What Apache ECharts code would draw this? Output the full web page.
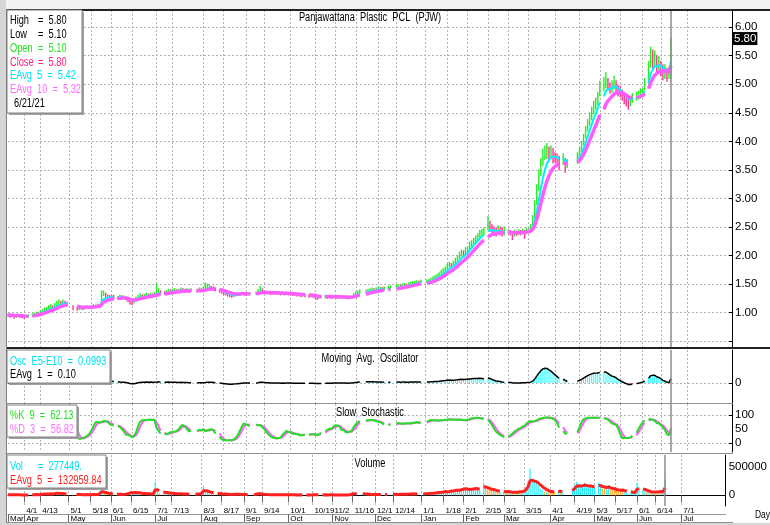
<!DOCTYPE html>
<html>
<head>
<meta charset="utf-8">
<script src="https://cdn.jsdelivr.net/npm/echarts@6/dist/echarts.min.js"></script>
<style>
  html, body { margin: 0; padding: 0; background: #fff; }
  #main { width: 770px; height: 525px; }
</style>
</head>
<body>
<div id="main"></div>
<script>
// weekday axis: 357 weekdays starting 2020-03-20 (holidays stay as empty slots)
var startDate = [2020, 2, 20];
var categoryCount = 357;

// tick labels on the date axis
var dayTicks = ['2020-04-01','2020-04-13','2020-05-01','2020-05-18','2020-06-01','2020-06-15','2020-07-01','2020-07-13',
  '2020-08-03','2020-08-17','2020-09-01','2020-09-14','2020-10-01','2020-10-19','2020-11-02','2020-11-16',
  '2020-12-01','2020-12-14','2021-01-01','2021-01-18','2021-02-01','2021-02-15','2021-03-01','2021-03-15',
  '2021-04-01','2021-04-19','2021-05-03','2021-05-17','2021-06-01','2021-06-14','2021-07-01'];
var monthStarts = ['2020-03-20','2020-04-01','2020-05-01','2020-06-01','2020-07-01','2020-08-03','2020-09-01','2020-10-01',
  '2020-11-02','2020-12-01','2021-01-01','2021-02-01','2021-03-01','2021-04-01','2021-05-03','2021-06-01','2021-07-01'];
var monthNames = ['Mar','Apr','May','Jun','Jul','Aug','Sep','Oct','Nov','Dec','Jan','Feb','Mar','Apr','May','Jun','Jul'];
var priceTicks = [0.5,1,1.5,2,2.5,3,3.5,4,4.5,5,5.5,6];
var priceLabels = [1,1.5,2,2.5,3,3.5,4,4.5,5,5.5,6];

// daily prices, one row per month (null = market closed)
var close = [
  0.96,0.94,0.95,0.93,0.94,0.95,0.94,0.93,
  0.92,0.93,0.94,null,0.96,0.97,0.99,0.98,1.01,1.03,1.05,1.06,1.08,1.10,1.09,1.12,1.15,1.17,1.16,1.18,1.17,1.15,
  null,null,1.08,null,1.06,1.07,1.08,1.07,1.09,1.10,1.09,1.10,1.12,1.11,1.13,1.12,1.30,1.34,1.30,1.28,1.27,
  1.28,1.27,null,1.26,1.27,1.28,1.27,1.25,1.22,1.18,1.17,1.20,1.24,1.27,1.30,1.29,1.30,1.31,1.30,1.32,1.31,1.33,
  1.34,1.36,1.35,null,1.34,1.36,1.38,1.37,1.38,1.39,1.37,1.38,1.40,1.39,1.38,1.39,1.38,1.39,null,null,1.38,1.40,1.39,
  1.40,1.42,1.44,1.45,1.43,1.42,1.40,null,1.38,1.36,1.34,1.33,1.31,1.30,1.29,1.30,1.31,1.32,1.33,1.34,1.33,
  1.32,1.33,1.33,null,null,1.34,1.36,1.40,1.38,1.36,1.35,1.35,1.34,1.34,1.35,1.34,1.34,1.33,1.34,1.33,1.34,1.33,
  1.33,1.32,1.32,1.31,1.31,1.30,1.31,1.30,null,1.29,1.30,1.29,1.27,1.26,1.27,1.27,null,1.28,1.27,1.28,1.27,1.28,
  1.28,1.27,1.28,1.27,1.27,1.27,1.26,1.27,1.27,1.30,1.33,1.35,1.37,null,null,1.37,1.38,1.39,1.40,1.39,1.40,
  1.41,1.42,1.41,1.42,null,1.43,1.44,null,null,1.45,1.46,1.45,1.47,1.48,1.47,1.49,1.50,1.51,1.52,1.53,1.52,1.54,null,
  null,1.55,1.56,1.58,1.60,1.62,1.64,1.66,1.70,1.73,1.76,1.80,1.84,1.82,1.86,1.90,1.94,2.00,2.04,2.02,2.08,
  2.12,2.18,2.22,2.26,2.30,2.34,2.38,2.40,2.42,null,2.56,2.48,2.44,2.42,2.40,2.44,2.42,2.40,2.42,null,
  2.42,2.40,2.38,2.40,2.39,2.41,2.40,2.42,2.40,2.44,2.44,2.48,2.60,2.84,3.10,3.36,3.56,3.72,3.80,3.84,3.78,3.82,3.76,
  3.72,3.70,3.64,null,3.70,3.60,3.62,null,null,null,null,3.72,3.80,3.92,4.04,4.18,4.30,4.40,4.50,4.60,4.66,4.76,
  4.90,null,5.00,5.05,4.98,4.92,4.96,5.02,4.94,4.88,4.86,4.80,4.76,4.72,4.66,4.70,4.76,null,4.78,4.80,4.84,
  4.86,5.00,null,5.30,5.50,5.40,5.45,5.30,5.38,5.30,5.20,5.25,5.15,5.20,5.80
];
var high = [
  0.98,0.96,0.97,0.95,0.96,0.97,0.96,0.95,
  0.94,0.95,0.96,null,0.98,0.99,1.01,1.00,1.03,1.05,1.08,1.09,1.12,1.14,1.12,1.16,1.20,1.22,1.20,1.22,1.20,1.18,
  null,null,1.12,null,1.09,1.09,1.10,1.09,1.11,1.12,1.11,1.12,1.14,1.13,1.15,1.14,1.38,1.38,1.34,1.31,1.30,
  1.30,1.30,null,1.28,1.30,1.30,1.29,1.27,1.25,1.21,1.20,1.23,1.27,1.30,1.33,1.31,1.32,1.34,1.32,1.34,1.33,1.35,
  1.50,1.42,1.38,null,1.37,1.39,1.41,1.40,1.41,1.42,1.40,1.41,1.43,1.42,1.41,1.42,1.41,1.42,null,null,1.41,1.43,1.42,
  1.44,1.52,1.50,1.48,1.46,1.45,1.43,null,1.40,1.39,1.36,1.35,1.33,1.32,1.31,1.32,1.33,1.34,1.35,1.36,1.35,
  1.34,1.35,1.35,null,null,1.36,1.40,1.46,1.42,1.38,1.37,1.37,1.36,1.36,1.37,1.36,1.36,1.35,1.36,1.35,1.36,1.35,
  1.35,1.34,1.34,1.33,1.33,1.32,1.33,1.32,null,1.31,1.32,1.31,1.29,1.28,1.29,1.29,null,1.30,1.29,1.30,1.29,1.30,
  1.30,1.29,1.30,1.29,1.29,1.29,1.28,1.29,1.29,1.33,1.36,1.38,1.40,null,null,1.40,1.41,1.42,1.43,1.42,1.43,
  1.44,1.45,1.44,1.45,null,1.46,1.47,null,null,1.48,1.49,1.48,1.50,1.51,1.50,1.52,1.53,1.54,1.55,1.56,1.55,1.57,null,
  null,1.57,1.58,1.60,1.63,1.65,1.67,1.70,1.74,1.77,1.80,1.85,1.88,1.86,1.90,1.95,2.00,2.06,2.10,2.08,2.14,
  2.16,2.24,2.26,2.30,2.34,2.38,2.44,2.46,2.48,null,2.68,2.60,2.54,2.50,2.48,2.52,2.50,2.48,2.50,null,
  2.46,2.44,2.42,2.44,2.43,2.45,2.44,2.46,2.44,2.48,2.48,2.54,2.70,2.96,3.24,3.50,3.70,3.86,3.92,3.96,3.90,3.92,3.88,
  3.80,3.78,3.74,null,3.78,3.70,3.68,null,null,null,null,3.80,3.88,4.00,4.12,4.26,4.38,4.50,4.60,4.70,4.76,4.86,
  5.05,null,5.12,5.20,5.10,5.02,5.06,5.14,5.06,4.98,4.96,4.90,4.86,4.82,4.76,4.78,4.84,null,4.86,4.88,4.92,
  4.92,5.10,null,5.40,5.65,5.60,5.58,5.50,5.48,5.40,5.34,5.34,5.28,5.30,5.80
];
var low = [
  0.93,0.92,0.93,0.90,0.92,0.93,0.92,0.91,
  0.90,0.91,0.92,null,0.94,0.95,0.97,0.96,0.99,1.00,1.02,1.03,1.05,1.07,1.06,1.09,1.12,1.14,1.13,1.15,1.14,1.12,
  null,null,1.05,null,1.04,1.05,1.06,1.05,1.07,1.08,1.07,1.08,1.10,1.09,1.11,1.10,1.14,1.30,1.27,1.25,1.24,
  1.25,1.24,null,1.24,1.25,1.26,1.25,1.22,1.19,1.15,1.14,1.17,1.21,1.24,1.27,1.27,1.28,1.29,1.28,1.29,1.29,1.30,
  1.30,1.33,1.33,null,1.32,1.33,1.35,1.35,1.36,1.37,1.35,1.36,1.37,1.37,1.36,1.37,1.36,1.37,null,null,1.36,1.37,1.37,
  1.38,1.40,1.41,1.42,1.41,1.40,1.38,null,1.36,1.34,1.32,1.31,1.29,1.28,1.27,1.28,1.29,1.30,1.31,1.32,1.31,
  1.30,1.31,1.31,null,null,1.32,1.33,1.36,1.35,1.34,1.33,1.33,1.32,1.32,1.33,1.32,1.32,1.31,1.32,1.31,1.32,1.31,
  1.31,1.30,1.30,1.29,1.29,1.28,1.29,1.28,null,1.27,1.28,1.27,1.25,1.23,1.25,1.25,null,1.26,1.25,1.26,1.25,1.26,
  1.26,1.25,1.26,1.25,1.25,1.25,1.24,1.25,1.25,1.27,1.30,1.32,1.34,null,null,1.35,1.36,1.37,1.38,1.37,1.38,
  1.39,1.40,1.39,1.40,null,1.41,1.42,null,null,1.43,1.44,1.43,1.45,1.46,1.45,1.47,1.48,1.49,1.50,1.51,1.50,1.52,null,
  null,1.53,1.54,1.56,1.58,1.60,1.62,1.64,1.67,1.70,1.73,1.76,1.80,1.79,1.82,1.86,1.90,1.95,1.99,1.98,2.02,
  2.06,2.12,2.16,2.20,2.24,2.28,2.32,2.34,2.36,null,2.46,2.42,2.38,2.36,2.34,2.38,2.36,2.34,2.36,null,
  2.38,2.36,2.28,2.34,2.35,2.37,2.36,2.38,2.30,2.38,2.40,2.42,2.50,2.66,2.90,3.14,3.40,3.58,3.68,3.70,3.66,3.70,3.62,
  3.64,3.62,3.50,null,3.60,3.46,3.54,null,null,null,null,3.62,3.70,3.82,3.94,4.06,4.18,4.28,4.38,4.48,4.56,4.64,
  4.80,null,4.88,4.94,4.90,4.84,4.86,4.92,4.86,4.80,4.78,4.72,4.66,4.62,4.56,4.62,4.68,null,4.72,4.74,4.76,
  4.80,4.90,null,5.00,5.30,5.25,5.30,5.20,5.22,5.15,5.08,5.10,5.05,5.10,5.10
];
// daily volume in thousands of shares
var volumeK = [
  12,8,10,6,9,7,8,6,
  5,7,9,null,14,12,18,10,22,30,25,20,28,35,18,30,55,40,25,30,20,15,
  null,null,12,null,8,10,9,7,12,15,10,12,18,14,20,15,120,90,40,25,20,
  18,15,null,12,14,16,12,20,35,60,70,45,55,40,50,25,20,30,18,22,20,25,
  240,110,40,null,25,30,45,28,30,35,20,25,30,22,18,25,20,22,null,null,18,25,20,
  60,170,90,60,40,35,28,null,25,20,18,15,20,14,12,15,18,20,15,18,12,
  10,12,10,null,null,14,25,50,30,15,12,10,9,8,10,9,8,7,9,8,10,8,
  9,8,7,8,6,7,9,6,null,8,7,6,10,12,8,7,null,9,6,8,7,9,
  8,7,6,8,7,6,9,8,7,30,45,40,35,null,null,25,20,18,15,12,14,
  15,12,10,14,null,12,15,null,null,18,20,15,22,25,18,20,22,25,28,30,22,35,null,
  null,30,25,35,40,38,45,50,60,55,65,70,80,60,75,90,85,110,100,80,120,
  130,140,100,90,110,120,150,100,90,null,225,160,110,90,80,100,70,60,70,null,
  60,50,70,55,45,50,60,55,80,65,90,150,260,480,280,240,220,180,120,100,70,60,50,
  40,45,60,null,70,90,50,null,null,null,null,120,180,240,200,150,170,220,160,140,180,130,
  150,null,220,170,120,140,110,180,100,90,110,80,70,90,100,60,50,null,45,40,35,
  220,150,null,100,90,60,50,40,45,60,55,70,75,60,277.449
];
var lastDate = '2021-06-21';

// ---- categories
var categories = [];
(function () {
  var d = new Date(Date.UTC(startDate[0], startDate[1], startDate[2]));
  while (categories.length < categoryCount) {
    var wd = d.getUTCDay();
    if (wd !== 0 && wd !== 6) categories.push(d.toISOString().slice(0, 10));
    d.setUTCDate(d.getUTCDate() + 1);
  }
})();

// ---- indicators
function ema(src, n) {
  var k = 2 / (n + 1), prev = null;
  return src.map(function (v) {
    if (v == null) return null;
    prev = prev == null ? v : prev + k * (v - prev);
    return prev;
  });
}
var ema5 = ema(close, 5);
var ema10 = ema(close, 10);
var osc = ema5.map(function (v, i) { return v == null ? null : v - ema10[i]; });

var volume = volumeK.map(function (v) { return v == null ? null : Math.round(v * 1000); });
var volEma = ema(volume, 5);

// slow stochastic %K 9 (slowing 3), %D 3
var stochK = close.map(function () { return null; });
var stochD = close.map(function () { return null; });
(function () {
  var idx = [];
  close.forEach(function (c, i) { if (c != null) idx.push(i); });
  var num = [], den = [], ks = [];
  idx.forEach(function (i, j) {
    var from = Math.max(0, j - 8), hh = -Infinity, ll = Infinity;
    for (var t = from; t <= j; t++) { hh = Math.max(hh, high[idx[t]]); ll = Math.min(ll, low[idx[t]]); }
    num.push(close[i] - ll); den.push(hh - ll);
    var a = 0, b = 0;
    for (var s = Math.max(0, j - 2); s <= j; s++) { a += num[s]; b += den[s]; }
    ks.push(b > 0 ? 100 * a / b : 50);
    stochK[i] = ks[j];
    var m = 0, c = 0;
    for (var s2 = Math.max(0, j - 2); s2 <= j; s2++) { m += ks[s2]; c++; }
    stochD[i] = m / c;
  });
})();

// price bars colored by change from previous close
var barColors = ['#a8a8a8', '#22ee22', '#ff3399'];
var priceBars = [];
var prevClose = null;
close.forEach(function (c, i) {
  if (c == null) return;
  var col = prevClose == null || c === prevClose ? 0 : (c > prevClose ? 1 : 2);
  priceBars.push([i, low[i], high[i], col]);
  prevClose = c;
});
var volColors = [];
prevClose = null;
close.forEach(function (c, i) {
  volColors[i] = (prevClose != null && c != null && c < prevClose) ? '#ffaa22' : '#22eeff';
  if (c != null) prevClose = c;
});

// ---- chart
var F = "'Liberation Sans', Arial, sans-serif";
var NARROW = 0.77;
var daySet = {}; dayTicks.forEach(function (d) { daySet[d] = true; });
var monthSet = {}; monthStarts.forEach(function (d, i) { monthSet[d] = monthNames[i]; });
function isDay(i, v) { return !!daySet[v]; }
function isMonth(i, v) { return !!monthSet[v]; }
var dotted = { color: '#b4b4b4', type: [2, 2], width: 1 };

var gridL = 8, gridR = 38;
var grids = [
  { left: gridL, right: gridR, top: 10, height: 337 },
  { left: gridL, right: gridR, top: 350, height: 53 },
  { left: gridL, right: gridR, top: 404, height: 48 },
  { left: gridL, right: gridR, top: 455, height: 51 }
];

function plainX(g) {
  return {
    type: 'category', gridIndex: g, data: categories, boundaryGap: false,
    axisLine: { show: false }, axisTick: { show: false }, axisLabel: { show: false },
    splitLine: { show: true, interval: isDay, lineStyle: dotted }
  };
}
function rightY(g, min, max, ticks, labels, fmt) {
  return {
    type: 'value', gridIndex: g, position: 'right', min: min, max: max, scale: true,
    axisLine: { show: true, lineStyle: { color: '#000', width: 1 } },
    axisTick: { show: true, inside: true, length: 3, customValues: ticks, lineStyle: { color: '#000' } },
    axisLabel: { show: true, customValues: labels, margin: 3, color: '#000', fontSize: 11.5, fontFamily: F, formatter: fmt },
    splitLine: { show: true, lineStyle: dotted }
  };
}

var xAxes = [plainX(0), plainX(1), plainX(2),
  {
    type: 'category', gridIndex: 3, data: categories, boundaryGap: false, position: 'bottom',
    axisLine: { show: true, lineStyle: { color: '#000', width: 1 } },
    axisTick: { show: true, interval: isDay, length: 7, lineStyle: { color: '#666' } },
    axisLabel: {
      show: true, interval: isDay, align: 'left', margin: 1, padding: [0, 0, 0, 2],
      fontSize: 8, lineHeight: 8, fontFamily: F, color: '#000',
      formatter: function (v) { return (+v.slice(5, 7)) + '/' + (+v.slice(8, 10)); }
    },
    splitLine: { show: true, interval: isDay, lineStyle: dotted }
  },
  {
    type: 'category', gridIndex: 3, data: categories, boundaryGap: false, position: 'bottom', offset: 8,
    axisLine: { show: true, lineStyle: { color: '#999', width: 1 } },
    axisTick: { show: true, interval: isMonth, length: 9, lineStyle: { color: '#666' } },
    axisLabel: {
      show: true, interval: isMonth, align: 'left', margin: 1, padding: [0, 0, 0, 2],
      fontSize: 8, lineHeight: 8, fontFamily: F, color: '#000',
      formatter: function (v) { return monthSet[v] || ''; }
    },
    splitLine: { show: false }
  }
];
var yAxes = [
  rightY(0, 0.398, 6.3, priceTicks, priceLabels, function (v) { return v.toFixed(2); }),
  rightY(1, -0.42, 0.69, [0], [0], function (v) { return '0'; }),
  rightY(2, -31, 139, [0, 100], [0, 50, 100], function (v) { return String(v); }),
  rightY(3, -191000, 720000, [0], [0, 500000], function (v) { return String(v); })
];

var cursor = {
  silent: true, symbol: 'none', animation: false,
  label: { show: false },
  lineStyle: { color: '#8a8a8a', width: 1.5, type: 'solid' },
  data: [{ xAxis: lastDate }]
};

var series = [
  {
    type: 'custom', xAxisIndex: 0, yAxisIndex: 0, data: priceBars,
    encode: { x: 0, y: [1, 2] },
    renderItem: function (params, api) {
      var a = api.coord([api.value(0), api.value(1)]);
      var b = api.coord([api.value(0), api.value(2)]);
      return {
        type: 'line',
        shape: { x1: a[0], y1: a[1] + 0.5, x2: b[0], y2: b[1] - 0.5 },
        style: { stroke: barColors[api.value(3)], lineWidth: 1.4 }
      };
    }
  },
  {
    type: 'line', xAxisIndex: 0, yAxisIndex: 0, data: ema5, showSymbol: false, connectNulls: false,
    lineStyle: { color: '#00f0ff', width: 2 },
    markLine: {
      silent: true, symbol: 'none', animation: false,
      lineStyle: { width: 0, color: 'rgba(0,0,0,0)' },
      label: { show: true, position: 'end', distance: 1, formatter: '5.80', color: '#fff', backgroundColor: '#000',
        padding: [1, 1, 0, 1], fontSize: 11.5, fontFamily: F },
      data: [{ yAxis: 5.8 }]
    }
  },
  {
    type: 'line', xAxisIndex: 0, yAxisIndex: 0, data: ema10, showSymbol: false, connectNulls: false,
    lineStyle: { color: '#ff5cff', width: 3.5 }, markLine: cursor
  },
  {
    type: 'bar', xAxisIndex: 1, yAxisIndex: 1, data: osc, barWidth: 1,
    itemStyle: { color: function (p) { return p.value >= 0 ? '#22ffff' : '#ffa0a0'; } }
  },
  {
    type: 'line', xAxisIndex: 1, yAxisIndex: 1, data: osc, showSymbol: false, connectNulls: false,
    lineStyle: { color: '#000', width: 1.5 }, markLine: cursor
  },
  {
    type: 'line', xAxisIndex: 2, yAxisIndex: 2, data: stochD, showSymbol: false, connectNulls: false,
    lineStyle: { color: '#ff5cff', width: 2 }
  },
  {
    type: 'line', xAxisIndex: 2, yAxisIndex: 2, data: stochK, showSymbol: false, connectNulls: false,
    lineStyle: { color: '#22e022', width: 2 }, markLine: cursor
  },
  {
    type: 'bar', xAxisIndex: 3, yAxisIndex: 3, data: volume, barWidth: 1.2,
    itemStyle: { color: function (p) { return volColors[p.dataIndex]; } }
  },
  {
    type: 'line', xAxisIndex: 3, yAxisIndex: 3, data: volEma, showSymbol: false, connectNulls: false,
    lineStyle: { color: '#ff2020', width: 3 }, markLine: cursor
  }
];

function txt(x, y, s, color, align, size) {
  return { type: 'text', x: x, y: y, z: 110, silent: true, scaleX: NARROW,
    style: { text: s, fill: color, font: (size || 12) + 'px ' + F, textAlign: align || 'left', textVerticalAlign: 'middle' } };
}
function box(x, y, w, h) {
  return [
    { type: 'rect', z: 100, silent: true, shape: { x: x + 2, y: y + 2, width: w, height: h }, style: { fill: '#a0a0a0' } },
    { type: 'rect', z: 101, silent: true, shape: { x: x, y: y, width: w, height: h }, style: { fill: '#fff', stroke: '#808080', lineWidth: 1 } }
  ];
}
function hline(x1, x2, y, color, w) {
  return { type: 'line', z: 90, silent: true, shape: { x1: x1, y1: y, x2: x2, y2: y }, style: { stroke: color, lineWidth: w } };
}

var graphics = [
  { type: 'rect', z: 95, silent: true, shape: { x: 0, y: 0, width: 770, height: 9 }, style: { fill: '#f2f2f2' } },
  { type: 'rect', z: 95, silent: true, shape: { x: 0, y: 0, width: 6, height: 525 }, style: { fill: '#d6d6d6' } },
  { type: 'rect', z: 95, silent: true, shape: { x: 0, y: 523, width: 770, height: 2 }, style: { fill: '#d6d6d6' } },
  { type: 'line', z: 96, silent: true, shape: { x1: 6.5, y1: 9, x2: 6.5, y2: 523 }, style: { stroke: '#808080', lineWidth: 1 } },
  hline(6, 770, 10, '#222', 2),
  hline(6, 770, 348, '#222', 2),
  hline(6, 733, 403.5, '#909090', 1),
  hline(6, 733, 453.5, '#909090', 1),
  hline(6, 733, 522.5, '#909090', 1),
  txt(370, 18, 'Panjawattana  Plastic  PCL  (PJW)', '#000', 'center'),
  txt(370, 359, 'Moving  Avg.  Oscillator', '#000', 'center'),
  txt(370, 413, 'Slow  Stochastic', '#000', 'center'),
  txt(370, 464, 'Volume', '#000', 'center'),
  txt(755, 515, 'Day', '#000', 'left', 11)
];
graphics = graphics.concat(box(7, 10, 75, 103), [
  txt(10, 21, 'High', '#000'), txt(38, 21, '=  5.80', '#000'),
  txt(10, 35, 'Low', '#000'), txt(38, 35, '=  5.10', '#000'),
  txt(10, 49, 'Open', '#22e022'), txt(38, 49, '=  5.10', '#22e022'),
  txt(10, 62.5, 'Close', '#ff1f7a'), txt(38, 62.5, '=  5.80', '#ff1f7a'),
  txt(10, 76, 'EAvg  5  =  5.42', '#00e0f0'),
  txt(10, 90, 'EAvg  10  =  5.32', '#ff6cff'),
  txt(14, 104, '6/21/21', '#000')
]);
graphics = graphics.concat(box(7, 350, 103, 33), [
  txt(10, 361.5, 'Osc  E5-E10  =  0.0993', '#00e0f0'),
  txt(10, 375, 'EAvg  1  =  0.10', '#000')
]);
graphics = graphics.concat(box(7, 405, 70, 32), [
  txt(10, 415.5, '%K  9  =  62.13', '#22e022'),
  txt(10, 429.5, '%D  3  =  56.82', '#ff6cff')
]);
graphics = graphics.concat(box(7, 455, 99, 33), [
  txt(10, 466.5, 'Vol', '#00e0f0'), txt(38, 466.5, '=  277449.', '#00e0f0'),
  txt(10, 481, 'EAvg  5  =  132959.84', '#ff2020')
]);

var chart = echarts.init(document.getElementById('main'), null, { renderer: 'canvas' });
chart.setOption({
  animation: false,
  backgroundColor: '#fff',
  textStyle: { fontFamily: F },
  grid: grids,
  xAxis: xAxes,
  yAxis: yAxes,
  series: series,
  graphic: { elements: graphics }
});
</script>
</body>
</html>
